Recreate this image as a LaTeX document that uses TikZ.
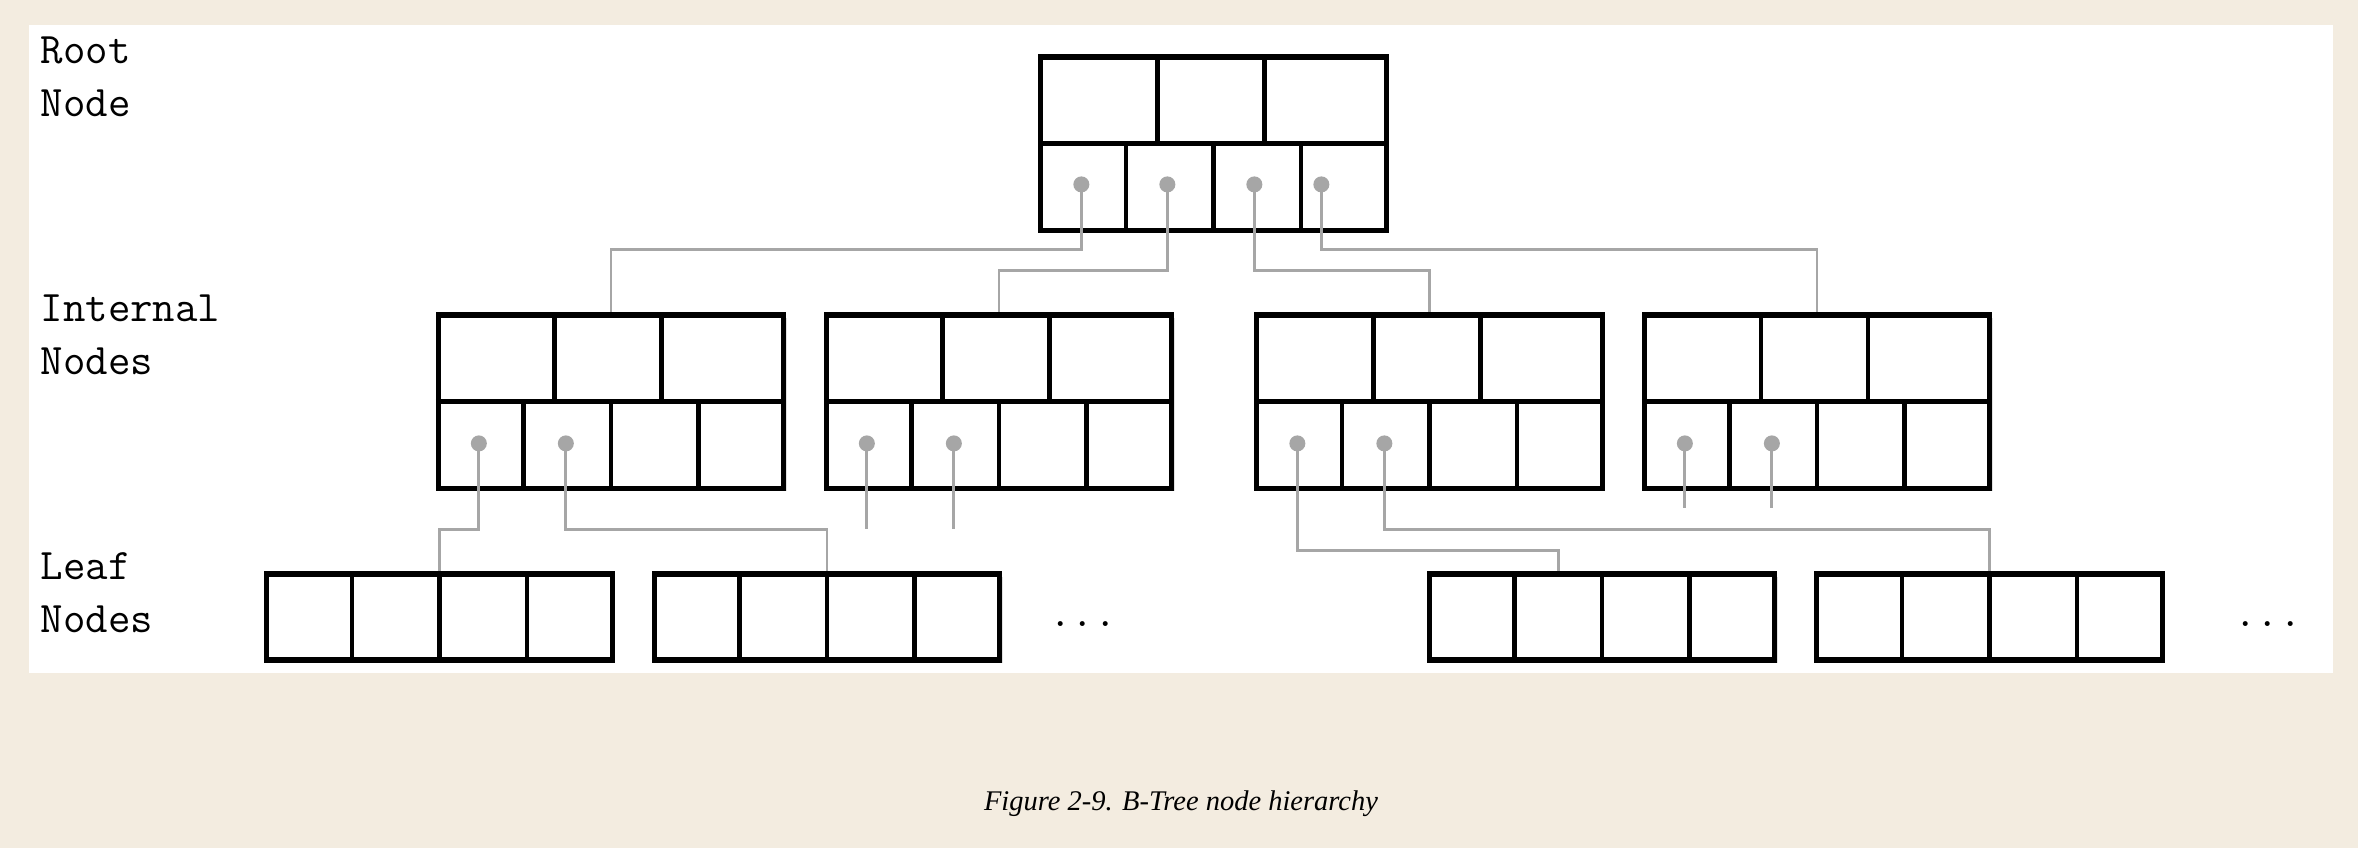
\documentclass[tikz,border=0pt]{standalone}
\usepackage{fontspec}
\newfontfamily\capfont{Liberation Serif}
\usepackage{tikz}
\usetikzlibrary{calc,shadows}

\definecolor{paper}{RGB}{243,236,224}
\definecolor{ptrgray}{RGB}{166,166,166}

\begin{document}
\begin{tikzpicture}[x=0.01cm,y=-0.01cm,
			tnode/.style={draw, line width=1.45pt, fill=white, inner sep=0pt, minimum width=3.45cm, minimum height=1.73cm, drop shadow={shadow xshift=0.03cm, shadow yshift=-0.03cm, fill=black, opacity=0.12}},
			lnode/.style={tnode, minimum height=0.86cm},
			cell/.style={line width=1.35pt},
			ptr/.style={draw=ptrgray, line width=0.8pt},
			ptrdot/.style={circle, fill=ptrgray, inner sep=0pt, minimum size=0.16cm},
			tiername/.style={font=\fontsize{12.4}{15}\selectfont\ttfamily, align=left, anchor=base west, inner sep=0pt},
			more/.style={font=\fontsize{12.4}{15}\selectfont\ttfamily, anchor=base, inner sep=0pt}]
			 \useasboundingbox (0,0) rectangle (2358,848);
			 \fill[paper] (0,0) rectangle (2358,848);
			 \fill[white] (29,25) rectangle (2333,673);
			 \node[tiername] (lroot) at (40,116) {Root\\Node};
			 \node[tiername] (lint) at (40,374) {Internal\\Nodes};
			 \node[tiername] (lleaf) at (40,632) {Leaf\\Nodes};
			 \node[tnode] (root) at (1213.5,143.5) {};
			 \node[tnode] (int1) at (611,401.5) {};
			 \node[tnode] (int2) at (999,401.5) {};
			 \node[tnode] (int3) at (1429.5,401.5) {};
			 \node[tnode] (int4) at (1817,401.5) {};
			 \node[lnode] (leaf1) at (439.5,617) {};
			 \node[lnode] (leaf2) at (827,617) {};
			 \node[lnode] (leaf3) at (1602,617) {};
			 \node[lnode] (leaf4) at (1989.5,617) {};
			 \foreach \n in {root,int1,int2,int3,int4}{
			 	\draw[cell] (\n.west)--(\n.east);
			 	\draw[cell] ($(\n.north west)+(119,0)$)--($(\n.west)+(119,0)$);
			 	\draw[cell] ($(\n.north west)+(226,0)$)--($(\n.west)+(226,0)$);
			 	\foreach \k in {1,2,3}
			 		\draw[cell] ($(\n.west)!\k/4!(\n.east)$)--($(\n.south west)!\k/4!(\n.south east)$);
			 }
			 \foreach \n in {leaf1,leaf2,leaf3,leaf4}
			 	\foreach \k in {1,2,3}
			 		\draw[cell] ($(\n.north west)!\k/4!(\n.north east)$)--($(\n.south west)!\k/4!(\n.south east)$);
			 \foreach \i/\dx in {1/43,2/129,3/216,4/283}
			 	\node[ptrdot] (r\i) at ($(root.north west)+(\dx,130)$) {};
			 \foreach \n in {int1,int2,int3,int4}{
			 	\node[ptrdot] (\n-a) at ($(\n.north west)+(43,131)$) {};
			 	\node[ptrdot] (\n-b) at ($(\n.north west)+(130,131)$) {};
			 }
			 \draw[ptr] (r1.center)--++(0,65)-|(int1.north);
			 \draw[ptr] (r2.center)--++(0,86)-|(int2.north);
			 \draw[ptr] (r3.center)--++(0,86)-|(int3.north);
			 \draw[ptr] (r4.center)--++(0,65)-|(int4.north);
			 \draw[ptr] (int1-a.center)--++(0,86)-|(leaf1.north);
			 \draw[ptr] (int1-b.center)--++(0,86)-|(leaf2.north);
			 \draw[ptr] (int2-a.center)--++(0,86);
			 \draw[ptr] (int2-b.center)--++(0,86);
			 \draw[ptr] (int3-a.center)--++(0,107)-|($(leaf3.north west)!3/8!(leaf3.north east)$);
			 \draw[ptr] (int3-b.center)--++(0,86)-|(leaf4.north);
			 \draw[ptr] (int4-a.center)--++(0,65);
			 \draw[ptr] (int4-b.center)--++(0,65);
			 \node[more] (dots1) at (1083,626) {...};
			 \node[more] (dots2) at (2268,626) {...};
			 \node[font=\capfont\itshape\fontsize{8.1}{10}\selectfont, anchor=base] (caption) at (1181,810) {Figure 2-9. B-Tree node hierarchy};
		\end{tikzpicture}
\end{document}
